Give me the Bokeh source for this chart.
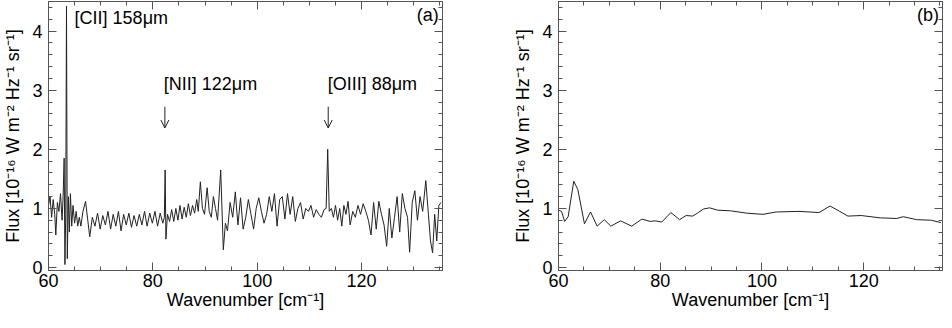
from bokeh.plotting import figure
from bokeh.embed import file_html
from bokeh.resources import INLINE
from bokeh.layouts import row
from bokeh.models import (LinearAxis, SingleIntervalTicker, Range1d, Arrow,
                          OpenHead, ColumnDataSource)
from bokeh.core.properties import value

# ---------------- data ----------------
# panel (a): raw spectrum
wn_a = [60.0, 60.3, 60.6, 60.9, 61.2, 61.4, 61.7, 62.0, 62.3, 62.6, 62.8, 63.0,
        63.15, 63.3, 63.45, 63.6, 63.8, 64.0, 64.2, 64.45, 64.7, 65.0, 65.3,
        65.6, 65.9, 66.2, 66.6, 67.1, 67.9, 68.4, 68.9, 69.4, 69.9, 70.4, 70.9,
        71.4, 71.9, 72.4, 72.9, 73.4, 73.9, 74.4, 74.9, 75.4, 75.9, 76.4, 76.9,
        77.4, 77.9, 78.4, 78.9, 79.4, 79.9, 80.4, 80.9, 81.4, 81.9, 82.2, 82.35,
        82.5, 82.8, 83.2, 83.6, 84.0, 84.4, 84.8, 85.2, 85.6, 86.0, 86.4, 86.8,
        87.2, 87.6, 88.0, 88.4, 88.7, 89.1, 89.5, 89.9, 90.4, 90.8, 91.2, 91.6,
        92.0, 92.4, 93.0, 93.5, 93.9, 94.3, 94.8, 95.3, 95.8, 96.3, 96.8, 97.3,
        97.8, 98.3, 98.8, 99.3, 99.8, 100.3, 100.8, 101.3, 101.8, 102.3, 102.8,
        103.3, 103.8, 104.3, 104.8, 105.3, 105.8, 106.3, 106.8, 107.3, 107.8,
        108.3, 108.8, 109.3, 109.8, 110.3, 110.8, 111.3, 111.8, 112.3, 112.8,
        113.2, 113.5, 113.8, 114.2, 114.6, 115.0, 115.4, 115.8, 116.2, 116.6,
        117.0, 117.4, 117.8, 118.3, 118.8, 119.3, 119.8, 120.3, 120.8, 121.3,
        121.8, 122.3, 122.8, 123.3, 123.8, 124.3, 124.8, 125.3, 125.8, 126.3,
        126.8, 127.3, 127.8, 128.3, 128.8, 129.2, 129.7, 130.2, 130.7, 131.2,
        131.7, 132.3, 132.8, 133.2, 133.6, 134.0, 134.4, 134.8, 135.2]
flux_a = [1.05, 1.2, 0.85, 1.15, 0.9, 0.55, 1.1, 0.95, 1.25, 0.8, 1.2, 1.85,
          0.05, 0.9, 4.42, 0.15, 1.2, 0.6, 1.25, 0.7, 1.05, 0.75, 0.95,
          0.7, 0.85, 0.7, 0.95, 1.12, 0.52, 0.85, 0.7, 0.92, 0.65, 0.88, 0.72,
          0.95, 0.65, 0.9, 0.7, 0.95, 0.62, 0.9, 0.72, 0.92, 0.68, 0.88, 0.7,
          0.9, 0.72, 0.95, 0.7, 0.92, 0.75, 0.95, 0.7, 0.92, 0.75, 0.85, 1.65,
          0.48, 0.9, 0.78, 0.98, 0.78, 1.0, 0.8, 1.05, 0.82, 1.02, 0.85, 1.08,
          0.88, 1.05, 0.92, 1.15, 0.95, 1.45, 1.0, 0.9, 1.35, 0.95, 0.85, 1.2,
          1.0, 0.8, 1.65, 0.3, 0.75, 0.62, 1.1, 0.85, 1.28, 0.72, 1.18, 0.65,
          0.85, 1.15, 0.9, 0.65, 1.0, 1.18, 0.95, 0.75, 0.9, 1.2, 0.95,
          1.25, 0.7, 1.15, 1.2, 0.82, 1.25, 0.9, 1.2, 0.78, 1.0,
          1.1, 0.82, 1.0, 0.95, 1.05, 0.85, 0.98, 0.9, 0.85, 0.98,
          1.0, 2.0, 0.95, 1.0, 0.85, 1.05, 0.8, 1.0, 0.7, 1.05,
          0.9, 1.12, 0.72, 0.95, 0.85, 1.05, 0.9, 1.08, 0.95, 0.8,
          0.55, 1.1, 0.65, 1.12, 0.9, 0.72, 0.36, 1.0, 0.5, 0.85,
          1.2, 0.6, 1.25, 1.0, 0.85, 0.26, 1.1, 1.3, 0.8, 1.2,
          0.95, 1.47, 0.9, 0.45, 0.25, 0.9, 0.45, 1.05, 1.1]

# panel (b): smoothed spectrum
wn_b = [60.0, 60.6, 61.2, 61.9, 63.0, 63.8, 65.1, 66.3, 67.6, 69.0, 70.3,
        72.2, 74.4, 76.4, 78.0, 79.0, 80.3, 82.1, 83.8, 85.1, 86.4, 87.3,
        88.5, 89.7, 91.3, 93.8, 97.0, 100.2, 102.8, 107.3, 111.2, 113.4,
        115.3, 116.9, 119.5, 123.3, 126.5, 127.8, 130.4, 133.3, 135.2]
flux_b = [0.97, 0.95, 0.78, 0.86, 1.46, 1.32, 0.74, 0.94, 0.70, 0.81, 0.70,
          0.79, 0.70, 0.82, 0.78, 0.79, 0.77, 0.93, 0.81, 0.88, 0.87, 0.92,
          0.99, 1.01, 0.97, 0.96, 0.92, 0.90, 0.94, 0.95, 0.93, 1.04,
          0.95, 0.87, 0.88, 0.84, 0.83, 0.86, 0.81, 0.80, 0.76]

# line identifications in panel (a)
line_names = ["[CII] 158\u03bcm", "[NII] 122\u03bcm", "[OIII] 88\u03bcm"]
label_x = [65.0, 82.1, 113.5]
label_y = [4.22, 3.1, 3.1]
arrow_x = [82.3, 113.6]
arrow_y_start = [2.72, 2.72]
arrow_y_end = [2.36, 2.36]

panel_tags = ["(a)", "(b)"]

x_start, x_end = 60, 135.5
y_start, y_end = -0.05, 4.5

FONT = "Liberation Sans"
FS = "18px"
INK = "#222222"
AX = "#555555"


def style_axis(ax, show_labels=True):
    ax.major_tick_in = 8
    ax.major_tick_out = 0
    ax.minor_tick_in = 4
    ax.minor_tick_out = 0
    ax.axis_line_color = AX
    ax.major_tick_line_color = AX
    ax.minor_tick_line_color = AX
    ax.major_label_text_font = FONT
    ax.axis_label_text_font = FONT
    ax.axis_label_text_font_style = "normal"
    ax.axis_label_text_font_size = FS
    ax.axis_label_text_color = "black"
    if show_labels:
        ax.major_label_text_font_size = FS
        ax.major_label_text_color = "black"
    else:
        ax.major_label_text_font_size = "1px"
        ax.major_label_text_color = None
        ax.major_label_standoff = 0


def make_panel(xs, ys, tag, width, left, right):
    p = figure(width=width, height=312, output_backend="svg",
               toolbar_location=None,
               x_range=Range1d(x_start, x_end), y_range=Range1d(y_start, y_end),
               min_border=0, min_border_left=left, min_border_right=right,
               min_border_top=1, min_border_bottom=40,
               x_axis_label="Wavenumber [cm\u207b\u00b9]",
               y_axis_label="Flux [10\u207b\u00b9\u2076 W m\u207b\u00b2 Hz\u207b\u00b9 sr\u207b\u00b9]")
    p.grid.visible = False
    p.outline_line_color = AX
    p.background_fill_color = "white"
    p.border_fill_color = "white"

    p.xaxis.ticker = SingleIntervalTicker(interval=20, num_minor_ticks=4)
    p.yaxis.ticker = SingleIntervalTicker(interval=1, num_minor_ticks=5)
    style_axis(p.xaxis[0])
    style_axis(p.yaxis[0])
    p.xaxis[0].major_label_standoff = 3
    p.xaxis[0].axis_label_standoff = 0
    p.yaxis[0].major_label_standoff = 6
    p.yaxis[0].axis_label_standoff = 6

    top = LinearAxis(ticker=SingleIntervalTicker(interval=20, num_minor_ticks=4))
    style_axis(top, show_labels=False)
    p.add_layout(top, "above")
    rgt = LinearAxis(ticker=SingleIntervalTicker(interval=1, num_minor_ticks=5))
    style_axis(rgt, show_labels=False)
    p.add_layout(rgt, "right")

    p.line(xs, ys, line_color=INK, line_width=1)

    p.text(x=[x_end - 0.7], y=[4.28], text=[tag], text_font=value(FONT),
           text_font_size=FS, text_align="right", text_baseline="middle",
           text_color="black")
    return p


pa = make_panel(wn_a, flux_a, panel_tags[0], 474, 40, 32)
src = ColumnDataSource(dict(x=label_x, y=label_y, t=line_names))
pa.text(x="x", y="y", text="t", source=src, text_font=value(FONT),
        text_font_size=FS, text_align="left", text_baseline="middle",
        text_color="black")
for ax_, ys_, ye_ in zip(arrow_x, arrow_y_start, arrow_y_end):
    pa.add_layout(Arrow(end=OpenHead(size=8, line_width=1, line_color=INK),
                        x_start=ax_, y_start=ys_, x_end=ax_, y_end=ye_,
                        line_width=1, line_color=INK))

pb = make_panel(wn_b, flux_b, panel_tags[1], 470, 84, 2)

layout = row(pa, pb)
open("out.html", "w").write(file_html(layout, INLINE))
